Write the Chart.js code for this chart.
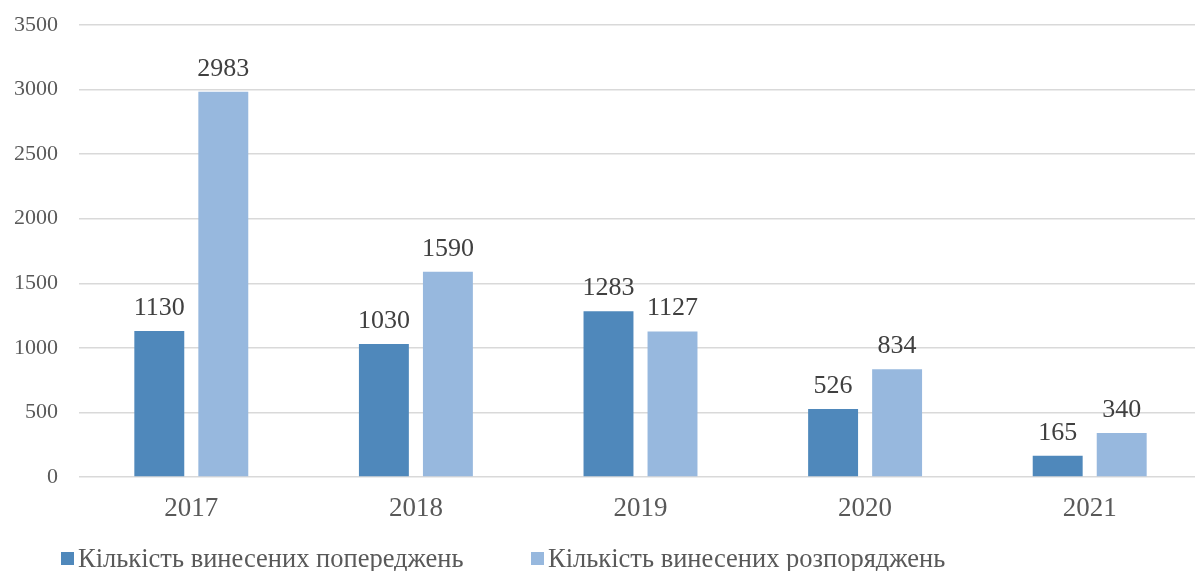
<!DOCTYPE html>
<html lang="uk">
<head>
<meta charset="utf-8">
<title>Кількість винесених попереджень і розпоряджень</title>
<script src="https://cdn.jsdelivr.net/npm/chart.js@4.4.1/dist/chart.umd.min.js"></script>
<style>
    html, body { margin: 0; padding: 0; background: #fff; overflow: hidden; }
    #wrap { position: relative; width: 1205px; height: 571px; }
</style>
</head>
<body>
<div id="wrap"><canvas id="chart"></canvas></div>
<script>
// Дані діаграми
const years = ['2017', '2018', '2019', '2020', '2021'];
const warnings = [1130, 1030, 1283, 526, 165];
const orders = [2983, 1590, 1127, 834, 340];
const yTicks = [0, 500, 1000, 1500, 2000, 2500, 3000, 3500];

const seriesNames = ['Кількість винесених попереджень', 'Кількість винесених розпоряджень'];
const seriesColors = ['#4f88bb', '#97b8de'];

const FONT = '"Liberation Serif", "Times New Roman", serif';

// Підписи значень над стовпчиками
const valueLabels = {
    id: 'valueLabels',
    afterDatasetsDraw(chart) {
        const ctx = chart.ctx;
        ctx.save();
        ctx.font = '26px ' + FONT;
        ctx.fillStyle = '#404040';
        ctx.textAlign = 'center';
        ctx.textBaseline = 'alphabetic';
        chart.data.datasets.forEach((ds, i) => {
            chart.getDatasetMeta(i).data.forEach((bar, j) => {
                ctx.fillText(String(ds.data[j]), bar.x, bar.y - 16);
            });
        });
        ctx.restore();
    }
};

// Легенда знизу зліва
const bottomLegend = {
    id: 'bottomLegend',
    afterDraw(chart) {
        const ctx = chart.ctx;
        const y = chart.height - 12;
        const starts = [61, 531];
        ctx.save();
        ctx.font = '26.5px ' + FONT;
        ctx.textAlign = 'left';
        ctx.textBaseline = 'middle';
        chart.data.datasets.forEach((ds, i) => {
            const x = starts[i];
            ctx.fillStyle = ds.backgroundColor;
            ctx.fillRect(x, y - 7, 13, 13);
            ctx.fillStyle = '#595959';
            ctx.fillText(ds.label, x + 17, y + 1);
        });
        ctx.restore();
    }
};

const ctx = document.getElementById('chart').getContext('2d');
const chart = new Chart(ctx, {
    type: 'bar',
    data: {
        labels: years,
        datasets: [{
            label: seriesNames[0],
            data: warnings,
            backgroundColor: seriesColors[0],
            borderWidth: 0,
            barPercentage: 0.78,
            categoryPercentage: 0.57
        }, {
            label: seriesNames[1],
            data: orders,
            backgroundColor: seriesColors[1],
            borderWidth: 0,
            barPercentage: 0.78,
            categoryPercentage: 0.57
        }]
    },
    options: {
        responsive: true,
        maintainAspectRatio: false,
        animation: false,
        layout: {
            padding: { top: 25, right: 3, bottom: 44, left: 0 }
        },
        plugins: {
            legend: { display: false },
            tooltip: { enabled: false }
        },
        scales: {
            x: {
                grid: { display: false },
                border: { display: false },
                ticks: {
                    color: '#595959',
                    font: { family: FONT, size: 27 },
                    padding: 8
                },
                afterFit(scale) { scale.height = 50; }
            },
            y: {
                min: 0,
                max: yTicks[yTicks.length - 1],
                afterBuildTicks(scale) {
                    scale.ticks = yTicks.map(v => ({ value: v }));
                },
                grid: {
                    color: '#d9d9d9',
                    lineWidth: 1.5,
                    drawTicks: false
                },
                border: { display: false },
                ticks: {
                    color: '#595959',
                    font: { family: FONT, size: 22 },
                    padding: 21,
                    callback: v => String(v)
                },
                afterFit(scale) {
                    scale.width = 79;
                    scale.paddingTop = 0;
                    scale.paddingBottom = 0;
                }
            }
        }
    },
    plugins: [valueLabels, bottomLegend]
});
</script>
</body>
</html>
